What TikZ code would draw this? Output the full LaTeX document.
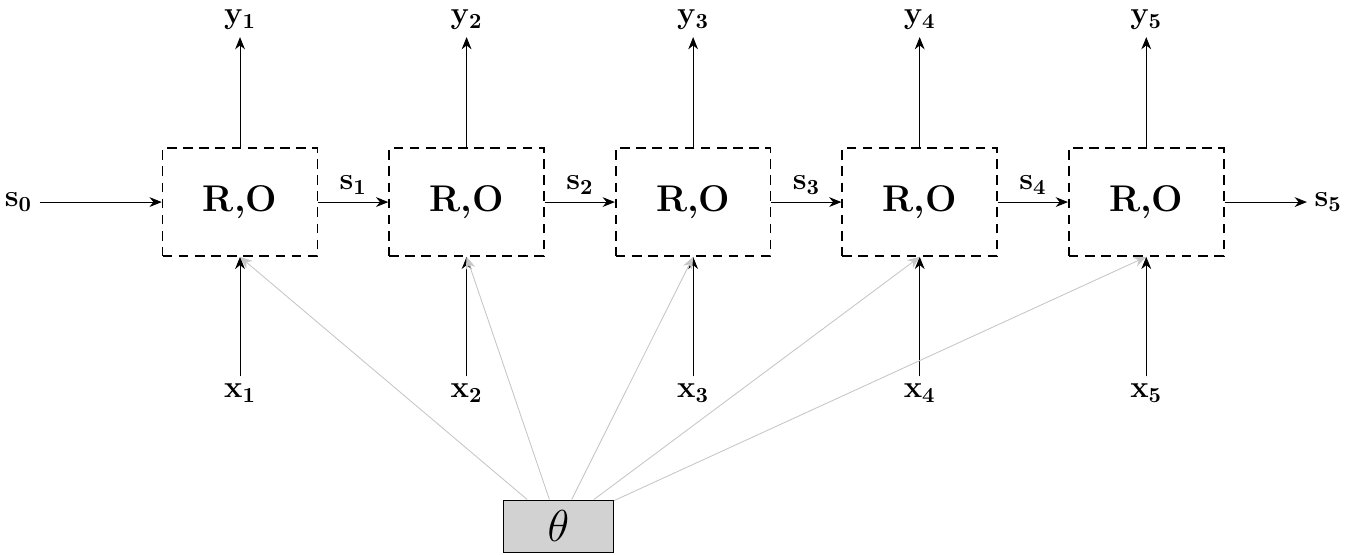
\documentclass[tikz,border=0pt]{standalone}
\usepackage{amsmath,amssymb}
\usepackage{xcolor}
\usepackage{tikz}
\usetikzlibrary{arrows.meta,positioning,calc}
\tikzset{
  cellbox/.style={draw,thick,dash pattern=on 4.5pt off 3pt,minimum width=2.53cm,minimum height=1.76cm,font=\LARGE\bfseries},
  parambox/.style={draw,fill=gray!35,minimum width=1.8cm,minimum height=0.85cm,font=\huge},
  lbl/.style={font=\Large},
  flow/.style={-{Stealth[length=2mm,width=1.6mm]}},
  share/.style={gray!45,-{Stealth[length=2mm,width=1.6mm]}}
}

\begin{document}
\begin{tikzpicture}[>=Stealth]
  \useasboundingbox (-3.92,-5.76) rectangle (18.16,3.30);
  % cells
  \foreach \i in {1,...,5}{
    \node[cellbox] (b\i) at ({(\i-1)*3.7},0) {R,O};
    \node[lbl] (y\i) at ({(\i-1)*3.7},2.98) {$\mathbf{y_{\i}}$};
    \node[lbl] (x\i) at ({(\i-1)*3.7},-3.12) {$\mathbf{x_{\i}}$};
    \draw[flow] (b\i) -- (y\i);
    \draw[flow] (x\i) -- (b\i);
  }
  % state chain
  \node[lbl] (s0) at (-3.62,0) {$\mathbf{s_0}$};
  \node[lbl] (s5) at (17.77,0) {$\mathbf{s_5}$};
  \draw[flow] (s0) -- (b1);
  \draw[flow] (b5) -- (s5);
  \foreach \i [evaluate=\i as \j using int(\i+1)] in {1,...,4}
    \draw[flow] (b\i) -- node[lbl,above] {$\mathbf{s_{\i}}$} (b\j);
  % shared parameters
  \node[parambox] (th) at (5.2,-5.29) {$\theta$};
  \foreach \i in {1,...,5}
    \draw[share] (th) -- (b\i.south);
\end{tikzpicture}
\end{document}
